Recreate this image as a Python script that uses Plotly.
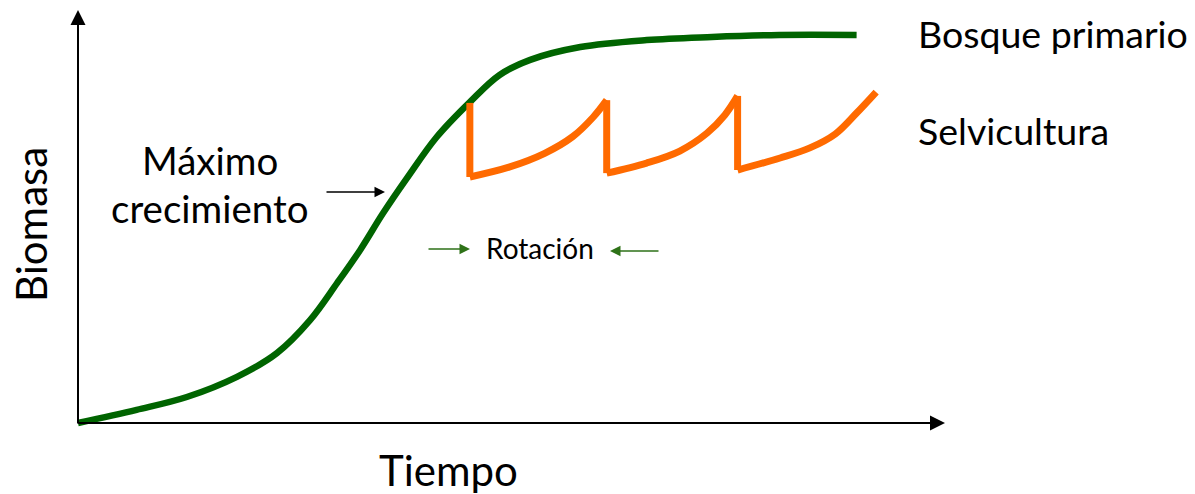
import plotly.graph_objects as go

# ---- data (time units, biomass units) ----
bosque_t = [0, 6.9, 12.8, 18.7, 23.4, 27.3, 30.5, 33.2, 35.9, 38.7, 42.2, 46.1, 49.6, 53.2, 59.1, 66.9, 74.6, 82.5, 91.6]
bosque_b = [0, 3.4, 6.7, 11.9, 18.0, 26.5, 36.1, 44.6, 54.1, 63.1, 73.7, 82.7, 89.7, 93.6, 96.9, 98.7, 99.5, 100, 100]

# silviculture rotations: harvest drops (vertical) and regrowth curves
corta_t = [46.1, 62.2, 77.6]
corta_top = [82.5, 83.2, 84.3]
corta_bottom = [63.4, 64.4, 65.2]

ciclo1_t = [46.1, 50.8, 54.9, 58.2, 60.6, 62.2]
ciclo1_b = [63.4, 66.0, 69.5, 73.8, 78.8, 83.2]
ciclo2_t = [62.2, 66.9, 70.8, 74.0, 76.1, 77.6]
ciclo2_b = [64.4, 67.0, 70.1, 74.7, 79.4, 84.3]
ciclo3_t = [77.6, 82.6, 86.1, 89.1, 91.6, 93.9]
ciclo3_b = [65.2, 68.3, 70.9, 74.5, 79.9, 85.3]

GREEN = "#006400"
ORANGE = "#FF6A00"
ARROW_GREEN = "#2E7218"
FONT = "Lato"

# pixel helpers for layout placement
def px2t(px):
    return (px - 78) / 8.5

def py2b(py):
    return (423 - py) / 3.88

fig = go.Figure()

fig.add_trace(go.Scatter(x=bosque_t, y=bosque_b, mode="lines",
                         line=dict(color=GREEN, width=6.5, shape="spline", smoothing=1.0),
                         hoverinfo="skip", showlegend=False))

for ct, cb in [(ciclo1_t, ciclo1_b), (ciclo2_t, ciclo2_b), (ciclo3_t, ciclo3_b)]:
    fig.add_trace(go.Scatter(x=ct, y=cb, mode="lines",
                             line=dict(color=ORANGE, width=7, shape="spline", smoothing=1.0),
                             hoverinfo="skip", showlegend=False))
for t, top, bot in zip(corta_t, corta_top, corta_bottom):
    fig.add_trace(go.Scatter(x=[t, t], y=[top, bot], mode="lines",
                             line=dict(color=ORANGE, width=7),
                             hoverinfo="skip", showlegend=False))

ann = []
# axes with arrows
ann.append(dict(x=0, y=py2b(10), ax=0, ay=py2b(425), xref="x", yref="y", axref="x", ayref="y",
                showarrow=True, arrowhead=2, arrowwidth=2, arrowsize=1.5, arrowcolor="black", text=""))
ann.append(dict(x=px2t(945), y=0, ax=px2t(77), ay=0, xref="x", yref="y", axref="x", ayref="y",
                showarrow=True, arrowhead=2, arrowwidth=2, arrowsize=1.5, arrowcolor="black", text=""))
# maximo crecimiento arrow
ann.append(dict(x=px2t(385), y=py2b(192), ax=px2t(325), ay=py2b(192), xref="x", yref="y", axref="x", ayref="y",
                showarrow=True, arrowhead=2, arrowwidth=1.5, arrowsize=1.4, arrowcolor="black", text=""))
# rotation arrows
ann.append(dict(x=px2t(470), y=py2b(249), ax=px2t(427), ay=py2b(249), xref="x", yref="y", axref="x", ayref="y",
                showarrow=True, arrowhead=2, arrowwidth=1.5, arrowsize=1.4, arrowcolor=ARROW_GREEN, text=""))
ann.append(dict(x=px2t(610), y=py2b(251), ax=px2t(660), ay=py2b(251), xref="x", yref="y", axref="x", ayref="y",
                showarrow=True, arrowhead=2, arrowwidth=1.5, arrowsize=1.4, arrowcolor=ARROW_GREEN, text=""))

# texts
def txt(s, px, py, size, xanchor="center", angle=0):
    return dict(x=px2t(px), y=py2b(py), xref="x", yref="y", text=s, showarrow=False,
                xanchor=xanchor, yanchor="middle", textangle=angle,
                font=dict(family=FONT, size=size, color="black"))

ann.append(txt("Bosque primario", 916, 33, 37.5, xanchor="left"))
ann.append(txt("Selvicultura", 916, 130, 37.5, xanchor="left"))
ann.append(txt("Máximo", 210, 160, 38.5))
ann.append(txt("crecimiento", 210, 208, 38.5))
ann.append(txt("Rotación", 540, 248, 28))
ann.append(txt("Tiempo", 448, 470, 42))
ann.append(txt("Biomasa", 31, 225, 42, angle=-90))

fig.update_layout(
    width=1195, height=494,
    margin=dict(l=0, r=0, t=0, b=0),
    paper_bgcolor="white", plot_bgcolor="white",
    xaxis=dict(range=[px2t(0), px2t(1195)], visible=False, fixedrange=True),
    yaxis=dict(range=[py2b(494), py2b(0)], visible=False, fixedrange=True),
    annotations=ann,
    showlegend=False,
)

fig.write_html("out.html", config={"displayModeBar": False},
               post_script="document.body.style.margin='0';document.body.style.overflow='hidden';")
